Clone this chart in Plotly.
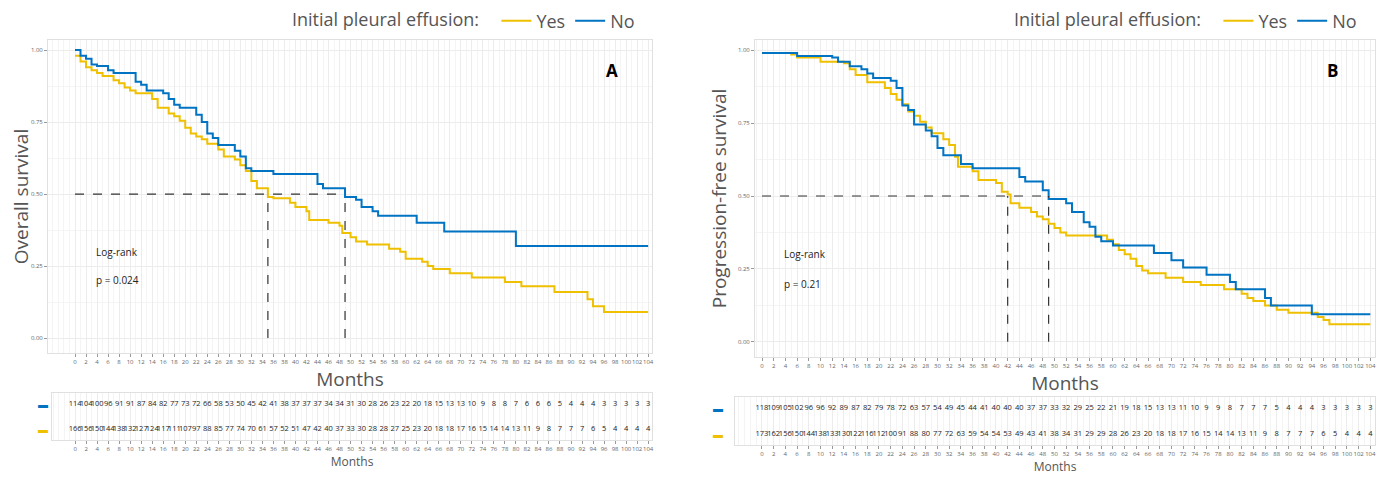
import plotly.graph_objects as go

YES = "#EFC000"
NO = "#0073C2"

# Panel A: overall survival, step breakpoints (month, survival)
a_no_t = [0, 1, 2, 3, 4, 6, 7, 11, 12, 13, 16, 17, 18, 19, 22, 23, 24, 25, 26, 29, 30, 31, 32, 36, 44, 45, 49, 51, 52, 54, 55, 62, 67, 80, 104]
a_no_s = [1.0, 0.98, 0.97, 0.95, 0.945, 0.93, 0.92, 0.89, 0.88, 0.86, 0.85, 0.83, 0.81, 0.80, 0.775, 0.75, 0.71, 0.695, 0.67, 0.65, 0.63, 0.59, 0.58, 0.57, 0.535, 0.52, 0.49, 0.48, 0.455, 0.44, 0.425, 0.40, 0.37, 0.32, 0.32]
a_yes_t = [0, 1, 2, 3, 4, 5, 7, 8, 9, 10, 11, 14, 15, 17, 18, 19, 20, 21, 22, 23, 24, 26, 27, 29, 30, 31, 32, 33, 35, 36, 39, 40, 42, 42.5, 46, 48, 48.5, 50, 51, 53, 57, 59, 60, 63, 64, 65, 68, 72, 78, 81, 87, 93, 94, 96, 104]
a_yes_s = [0.98, 0.96, 0.94, 0.93, 0.92, 0.91, 0.895, 0.885, 0.87, 0.86, 0.85, 0.83, 0.80, 0.78, 0.77, 0.755, 0.73, 0.71, 0.70, 0.69, 0.675, 0.655, 0.63, 0.62, 0.60, 0.58, 0.545, 0.52, 0.49, 0.485, 0.47, 0.455, 0.44, 0.41, 0.40, 0.39, 0.365, 0.35, 0.335, 0.325, 0.31, 0.30, 0.275, 0.265, 0.25, 0.24, 0.225, 0.21, 0.195, 0.18, 0.16, 0.135, 0.11, 0.09, 0.09]

# Panel B: progression-free survival
b_no_t = [0, 6, 12, 13, 15, 17, 18, 19, 22, 23, 24, 25, 26, 28, 29, 30, 31, 34, 36, 44, 45, 48, 49, 52, 53, 55, 56, 57, 58, 60, 67, 70, 72, 76, 80, 81, 86, 87, 94, 104]
b_no_s = [0.99, 0.98, 0.975, 0.96, 0.945, 0.935, 0.92, 0.905, 0.895, 0.87, 0.81, 0.795, 0.745, 0.725, 0.705, 0.665, 0.64, 0.61, 0.595, 0.565, 0.55, 0.52, 0.49, 0.475, 0.445, 0.41, 0.395, 0.36, 0.345, 0.33, 0.305, 0.28, 0.255, 0.23, 0.205, 0.18, 0.15, 0.125, 0.095, 0.095]
b_yes_t = [0, 5, 6, 10, 14, 15, 16, 18, 21, 22, 23, 24, 25, 26, 27, 28, 29, 31, 32, 33, 33.5, 36, 37, 40, 41, 42, 42.5, 44, 46, 47, 48, 49, 50, 51, 52, 59, 60, 61, 62, 63, 64, 65, 66, 69, 72, 75, 79, 82, 83, 84, 86, 88, 90, 95, 96, 97, 104]
b_yes_s = [0.99, 0.985, 0.975, 0.96, 0.955, 0.935, 0.915, 0.89, 0.87, 0.85, 0.83, 0.815, 0.79, 0.775, 0.755, 0.735, 0.715, 0.695, 0.675, 0.635, 0.60, 0.585, 0.555, 0.545, 0.515, 0.505, 0.475, 0.46, 0.445, 0.43, 0.42, 0.405, 0.39, 0.375, 0.365, 0.35, 0.335, 0.315, 0.30, 0.285, 0.26, 0.245, 0.235, 0.22, 0.205, 0.195, 0.18, 0.165, 0.15, 0.14, 0.125, 0.11, 0.10, 0.085, 0.075, 0.06, 0.06]

risk_t = list(range(0, 105, 2))
a_no_risk = [114, 104, 100, 96, 91, 91, 87, 84, 82, 77, 73, 72, 66, 58, 53, 50, 45, 42, 41, 38, 37, 37, 37, 34, 34, 31, 30, 28, 26, 23, 22, 20, 18, 15, 13, 13, 10, 9, 8, 8, 7, 6, 6, 6, 5, 4, 4, 4, 3, 3, 3, 3, 3]
a_yes_risk = [166, 156, 150, 144, 138, 132, 127, 124, 117, 111, 107, 97, 88, 85, 77, 74, 70, 61, 57, 52, 51, 47, 42, 40, 37, 33, 30, 28, 28, 27, 25, 23, 20, 18, 18, 17, 16, 15, 14, 14, 13, 11, 9, 8, 7, 7, 7, 6, 5, 4, 4, 4, 4]
b_no_risk = [118, 109, 105, 102, 96, 96, 92, 89, 87, 82, 79, 78, 72, 63, 57, 54, 49, 45, 44, 41, 40, 40, 40, 37, 37, 33, 32, 29, 25, 22, 21, 19, 18, 15, 13, 13, 11, 10, 9, 9, 8, 7, 7, 7, 5, 4, 4, 4, 3, 3, 3, 3, 3]
b_yes_risk = [173, 162, 156, 150, 144, 138, 133, 130, 122, 116, 112, 100, 91, 88, 80, 77, 72, 63, 59, 54, 54, 53, 49, 43, 41, 38, 34, 31, 29, 29, 28, 26, 23, 20, 18, 18, 17, 16, 15, 14, 14, 13, 11, 9, 8, 7, 7, 7, 6, 5, 4, 4, 4]

# page body has an 8px margin, so the figure is drawn 8px in from the window
W, H, OFF = 1376, 475, 8


def fx(px):
    return (px - OFF) / W


def fy(py):
    return 1 - (py - OFF) / H


panels = [
    dict(xa="x", ya="y", txa="x2", tya="y2", dom=[fx(48), fx(652)], tdom=[fx(52), fx(652)],
         xr=[-4.9, 104.7], txr=[-4.2, 104.7],
         ydom=[fy(353), fy(40)], tydom=[fy(440), fy(393)], dash_x=fx(36),
         no=(a_no_t, a_no_s), yes=(a_yes_t, a_yes_s), risk=(a_no_risk, a_yes_risk),
         med=[35, 49], p="p = 0.024", tag="A", ytitle="Overall survival", leg="legend"),
    dict(xa="x3", ya="y3", txa="x4", tya="y4", dom=[fx(755), fx(1375)], tdom=[fx(735), fx(1375)],
         xr=[-1.2, 104.8], txr=[-4.6, 104.8],
         ydom=[fy(357), fy(40)], tydom=[fy(445), fy(397)], dash_x=fx(718),
         no=(b_no_t, b_no_s), yes=(b_yes_t, b_yes_s), risk=(b_no_risk, b_yes_risk),
         med=[42, 49], p="p = 0.21", tag="B", ytitle="Progression-free survival", leg="legend2"),
]

fig = go.Figure()
layout = {}
annotations = []
shapes = []
for i, p in enumerate(panels):
    for name, col, (t, s) in [("Yes", YES, p["yes"]), ("No", NO, p["no"])]:
        fig.add_trace(go.Scatter(x=t, y=s, mode="lines", line=dict(color=col, width=2, shape="hv"),
                                 name=name, xaxis=p["xa"], yaxis=p["ya"], legend=p["leg"]))
    no_r, yes_r = p["risk"]
    fig.add_trace(go.Scatter(x=risk_t, y=[2] * len(risk_t), mode="text", text=[str(v) for v in no_r],
                             textfont=dict(size=7.5, color="#222"), showlegend=False,
                             xaxis=p["txa"], yaxis=p["tya"]))
    fig.add_trace(go.Scatter(x=risk_t, y=[1] * len(risk_t), mode="text", text=[str(v) for v in yes_r],
                             textfont=dict(size=7.5, color="#222"), showlegend=False,
                             xaxis=p["txa"], yaxis=p["tya"]))
    k = 1 + 2 * i
    xk = "xaxis" if k == 1 else f"xaxis{k}"
    yk = "yaxis" if k == 1 else f"yaxis{k}"
    txk, tyk = f"xaxis{k + 1}", f"yaxis{k + 1}"
    grid = dict(showgrid=True, gridcolor="#ececec", gridwidth=1, zeroline=False, automargin=False,
                showline=True, linecolor="#e0e0e0", mirror=True, tickangle=0,
                tickfont=dict(size=6, color="#666"), ticks="outside", ticklen=3, tickcolor="#999")
    layout[xk] = dict(grid, domain=p["dom"], range=p["xr"], anchor=p["ya"], tickmode="array", tickvals=risk_t,
                      minor=dict(dtick=1, showgrid=True, gridcolor="#f4f4f4"),
                      title=dict(text="Months", font=dict(size=19, color="#555"), standoff=2))
    layout[yk] = dict(grid, domain=p["ydom"], range=[-0.052, 1.035], anchor=p["xa"],
                      tickvals=[0, 0.25, 0.5, 0.75, 1], ticktext=["0.00", "0.25", "0.50", "0.75", "1.00"],
                      minor=dict(dtick=0.125, showgrid=True, gridcolor="#f4f4f4"),
                      title=dict(text=p["ytitle"], font=dict(size=19, color="#555"), standoff=6))
    layout[txk] = dict(grid, domain=p["tdom"], range=p["txr"], anchor=p["tya"], tickmode="array", tickvals=risk_t,
                       minor=dict(dtick=1, showgrid=True, gridcolor="#f4f4f4"),
                       title=dict(text="Months", font=dict(size=12, color="#555"), standoff=2))
    layout[tyk] = dict(grid, domain=p["tydom"], range=[0.55, 2.45], anchor=p["txa"],
                       showticklabels=False, ticks="", showgrid=False)
    # median lines
    shapes.append(dict(type="line", xref=p["xa"], yref=p["ya"], x0=0, x1=p["med"][1], y0=0.5, y1=0.5,
                       line=dict(color="#333", width=1.2, dash="dash")))
    for m in p["med"]:
        shapes.append(dict(type="line", xref=p["xa"], yref=p["ya"], x0=m, x1=m, y0=0, y1=0.5,
                           line=dict(color="#333", width=1.2, dash="dash")))
    annotations += [
        dict(x=3.5, y=0.3, xref=p["xa"], yref=p["ya"], text="Log-rank", showarrow=False, xanchor="left",
             font=dict(size=10, color="#222")),
        dict(x=3.5, y=0.2, xref=p["xa"], yref=p["ya"], text=p["p"], showarrow=False, xanchor="left",
             font=dict(size=10, color="#222")),
        dict(x=97.5, y=0.93, xref=p["xa"], yref=p["ya"], text="<b>" + p["tag"] + "</b>", showarrow=False,
             font=dict(size=17, color="#000")),
        dict(x=p["dash_x"], y=2, xref="paper", yref=p["tya"], text="▬", showarrow=False,
             font=dict(size=10, color=NO)),
        dict(x=p["dash_x"], y=1, xref="paper", yref=p["tya"], text="▬", showarrow=False,
             font=dict(size=10, color=YES)),
    ]

legend_style = dict(orientation="h", yanchor="middle", y=fy(21), xanchor="left", bgcolor="rgba(0,0,0,0)",
                    font=dict(size=18, color="#555"),
                    title=dict(text="Initial pleural effusion:  ", font=dict(size=18, color="#555")))
fig.update_layout(
    width=W, height=H, autosize=False,
    margin=dict(l=0, r=0, t=0, b=0, pad=0, autoexpand=False),
    paper_bgcolor="white", plot_bgcolor="white",
    font=dict(family="Open Sans, sans-serif"),
    legend=dict(legend_style, x=fx(290)),
    legend2=dict(legend_style, x=fx(1012)),
    annotations=annotations, shapes=shapes,
    **layout,
)
fig.write_html("out.html")
